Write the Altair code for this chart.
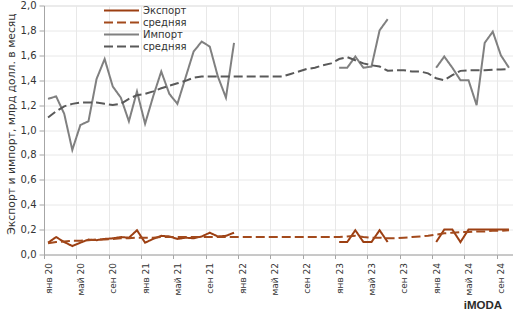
import altair as alt
import pandas as pd

# x tick labels (every 4 months, Jan 2020 .. Sep 2024)
month_labels = ["янв 20", "май 20", "сен 20", "янв 21", "май 21", "сен 21",
                "янв 22", "май 22", "сен 22", "янв 23", "май 23", "сен 23",
                "янв 24", "май 24", "сен 24"]
y_ticks = [0.0, 0.2, 0.4, 0.6, 0.8, 1.0, 1.2, 1.4, 1.6, 1.8, 2.0]

N = None
# monthly values Jan 2020 .. Oct 2024 (58 months)
export_vals = [0.095, 0.14, 0.10, 0.068, 0.095, 0.12, 0.115, 0.125, 0.13, 0.14, 0.135, 0.195,
               0.095, 0.125, 0.15, 0.145, 0.125, 0.135, 0.13, 0.145, 0.175, 0.145, 0.15, 0.175,
               N, N, N, N, N, N, N, N, N, N, N, N,
               0.10, 0.10, 0.195, 0.10, 0.10, 0.195, 0.10, N, N, N, N, N,
               0.10, 0.20, 0.20, 0.10, 0.20, 0.20, 0.20, 0.20, 0.20, 0.20]
export_avg = [0.09, 0.10, 0.105, 0.11, 0.11, 0.115, 0.12, 0.12, 0.125, 0.13, 0.13, 0.135,
              0.135, 0.135, 0.14, 0.14, 0.14, 0.14, 0.14, 0.14, 0.14, 0.14, 0.14, 0.14,
              0.14, 0.14, 0.14, 0.14, 0.14, 0.14, 0.14, 0.14, 0.14, 0.14, 0.14, 0.14,
              0.14, 0.145, 0.15, 0.14, 0.135, 0.135, 0.13, 0.13, 0.135, 0.14, 0.145, 0.15,
              0.16, 0.17, 0.175, 0.18, 0.18, 0.185, 0.185, 0.19, 0.19, 0.195]
import_vals = [1.25, 1.27, 1.13, 0.84, 1.04, 1.07, 1.41, 1.57, 1.35, 1.26, 1.07, 1.31,
               1.05, 1.27, 1.47, 1.29, 1.21, 1.42, 1.63, 1.71, 1.67, 1.43, 1.26, 1.70,
               N, N, N, N, N, N, N, N, N, N, N, N,
               1.50, 1.50, 1.59, 1.50, 1.51, 1.80, 1.89, N, N, N, N, N,
               1.50, 1.59, 1.50, 1.40, 1.40, 1.20, 1.70, 1.79, 1.60, 1.50]
import_avg = [1.10, 1.15, 1.19, 1.21, 1.22, 1.22, 1.22, 1.21, 1.20, 1.21, 1.25, 1.28,
              1.29, 1.31, 1.335, 1.355, 1.375, 1.395, 1.42, 1.43, 1.43, 1.43, 1.43, 1.43,
              1.43, 1.43, 1.43, 1.43, 1.43, 1.43, 1.45, 1.47, 1.49, 1.50, 1.52, 1.535,
              1.57, 1.585, 1.56, 1.535, 1.52, 1.51, 1.476, 1.48, 1.48, 1.47, 1.47, 1.455,
              1.415, 1.40, 1.44, 1.475, 1.48, 1.48, 1.48, 1.485, 1.485, 1.49]

series_names = ["Экспорт", "средняя ", "Импорт", "средняя"]
series_vals = [export_vals, export_avg, import_vals, import_avg]
colors = ["#9C3F12", "#A34A1C", "#808080", "#595959"]
dashes = [[1, 0], [9, 4], [1, 0], [9, 4]]

rows = []
seg = 0
for name, vals in zip(series_names, series_vals):
    prev = None
    for i, v in enumerate(vals):
        if v is None:
            prev = None
            continue
        if prev is None:
            seg += 1
        rows.append({"series": name, "m": i + 0.5, "v": v, "seg": seg})
        prev = v
df = pd.DataFrame(rows)

x_label_expr = "[" + ",".join("'" + l + "'" for l in month_labels) + "][datum.value/4]"

legend = alt.Legend(title=None, orient="none", legendX=59, legendY=-1,
                    symbolType="stroke", symbolSize=1225, symbolStrokeWidth=2,
                    labelFont="DejaVu Sans", labelFontSize=10, labelColor="#333333",
                    labelOffset=3, rowPadding=0, clipHeight=12)

lines = alt.Chart(df).mark_line(strokeWidth=2).encode(
    x=alt.X("m:Q", scale=alt.Scale(domain=[0, 58], nice=False, zero=False),
            axis=alt.Axis(values=list(range(0, 57, 4)), labelExpr=x_label_expr,
                          labelAngle=270, labelAlign="right", labelBaseline="middle",
                          labelOffset=4, labelPadding=4, tickSize=4, title=None,
                          labelFont="DejaVu Sans", labelFontSize=9, labelColor="#333333",
                          grid=True, gridColor="#e8e8e8", domainColor="#a6a6a6",
                          tickColor="#a6a6a6", labelOverlap=False)),
    y=alt.Y("v:Q", scale=alt.Scale(domain=[0, 2], nice=False),
            axis=alt.Axis(values=y_ticks,
                          labelExpr="replace(format(datum.value, '.1f'), '.', ',')",
                          title="Экспорт и импорт, млрд долл. в месяц",
                          titleFont="DejaVu Sans", titleFontSize=10.8, titleFontWeight="normal",
                          titleColor="#333333", titleX=-28, titleY=118, titleAngle=270,
                          titleAlign="center",
                          labelFont="DejaVu Sans", labelFontSize=10, labelColor="#333333",
                          tickSize=5, labelPadding=3, grid=True, gridColor="#e8e8e8",
                          domainColor="#a6a6a6", tickColor="#a6a6a6")),
    color=alt.Color("series:N", scale=alt.Scale(domain=series_names, range=colors),
                    legend=legend),
    strokeDash=alt.StrokeDash("series:N", scale=alt.Scale(domain=series_names, range=dashes),
                              legend=legend),
    detail="seg:N",
    order="m:Q",
)

logo = alt.Chart(pd.DataFrame({"t": ["iMODA"]})).mark_text(
    font="Liberation Sans Narrow, Liberation Sans", fontSize=11.5, fontWeight="bold",
    color="#2b2b2b", align="center", baseline="middle"
).encode(text="t:N", x=alt.value(439), y=alt.value(300))

chart = alt.layer(lines, logo).properties(
    width=469, height=249,
    autosize=alt.AutoSizeParams(type="none"),
    padding={"left": 44, "top": 5.5, "right": 0, "bottom": 61.5},
).configure_view(stroke=None).configure(background="white")

chart.save("out.html", embed_options={"renderer": "svg", "actions": False})
